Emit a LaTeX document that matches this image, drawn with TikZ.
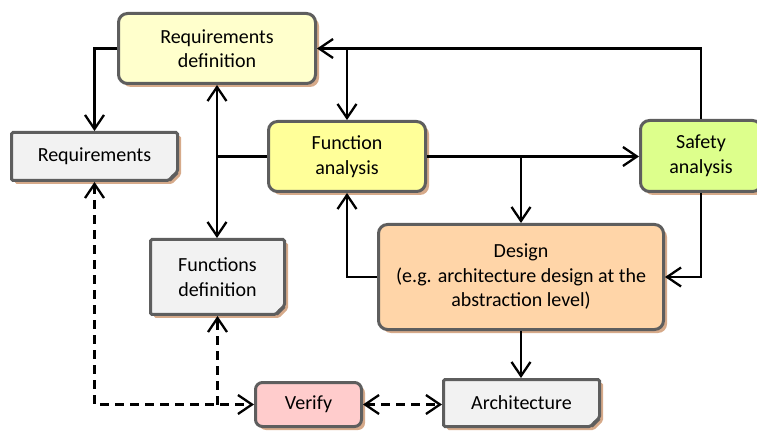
\documentclass[tikz,border=0pt]{standalone}
\usepackage{fontspec}
\setmainfont{Carlito}
\usetikzlibrary{arrows.meta,shadows,shapes.misc,calc}
\definecolor{bordc}{HTML}{5E5E5E}
\definecolor{shadc}{HTML}{D6AA8A}
\definecolor{rdfill}{HTML}{FFFFCC}
\definecolor{docfill}{HTML}{F2F2F2}
\definecolor{fafill}{HTML}{FFFF99}
\definecolor{safill}{HTML}{DDFF8C}
\definecolor{defill}{HTML}{FFD5A8}
\definecolor{vefill}{HTML}{FFCCCC}
\begin{document}
\begin{tikzpicture}[x=1pt,y=-1pt,
  every node/.style={font=\fontsize{20}{24.5}\selectfont, text=black, align=center, inner sep=0pt},
  base/.style={draw=bordc, line width=3pt,
    drop shadow={shadow xshift=3.5pt, shadow yshift=-3.5pt, fill=shadc, opacity=1}},
  proc/.style={base, rectangle, rounded corners=9pt},
  docbox/.style={base, chamfered rectangle, chamfered rectangle corners=south east,
    chamfered rectangle xsep=4.5pt, chamfered rectangle ysep=4.5pt, rounded corners=1.5pt},
  tip/.style={Straight Barb[length=14pt,width=19pt,line width=2.3pt]},
  conn/.style={line width=2.3pt, -{Straight Barb[length=14pt,width=19pt,line width=2.3pt]}},
  connboth/.style={line width=2.3pt, {Straight Barb[length=14pt,width=19pt,line width=2.3pt]}-{Straight Barb[length=14pt,width=19pt,line width=2.3pt]}},
  plain/.style={line width=2.3pt},
  dconn/.style={conn, dash pattern=on 9pt off 6pt},
  dconnboth/.style={connboth, dash pattern=on 9pt off 6pt}]
\useasboundingbox (0,0) rectangle (757,435);

% process boxes
\node[proc, fill=rdfill, minimum width=197pt, minimum height=70pt] (rd) at (217,48.5) {Requirements\\definition};
\node[proc, fill=fafill, minimum width=157pt, minimum height=70pt] (fa) at (347,156.5) {Function\\analysis};
\node[proc, fill=safill, minimum width=121pt, minimum height=71pt] (sa) at (701,156) {Safety\\analysis};
\node[proc, fill=defill, minimum width=285pt, minimum height=105pt] (de) at (521,277) {Design\\(e.g. architecture design at the\\abstraction level)};
\node[proc, fill=vefill, minimum width=106pt, minimum height=44pt, rounded corners=7pt] (ve) at (308.5,404.5) {Verify};

% document boxes
\node[docbox, fill=docfill, minimum width=166pt, minimum height=48pt] (req) at (94.5,156.5) {Requirements};
\node[docbox, fill=docfill, minimum width=134pt, minimum height=75pt] (fd) at (217.5,277) {Functions\\definition};
\node[docbox, fill=docfill, minimum width=156pt, minimum height=47pt] (ar) at (521.5,403) {Architecture};

% folded corners of the documents
\foreach \d in {req,fd,ar}{
  \coordinate (c) at (\d.south -| \d.east);
  \fill[bordc, rounded corners=1pt] ($(c)+(-9,0)$) -- ($(c)+(0,-9)$) -- ($(c)+(-8,-7)$) -- cycle;
}

% solid connectors
\draw[conn] (rd.west) -| (req.north);
\draw[conn] (sa.north) |- (rd.east);
\draw[conn] (fa.north |- rd.east) -- (fa.north);
\draw[connboth] (rd.south) -- (rd.south |- fd.north);
\draw[plain] (fa.west) -- (fa.west -| rd.south);
\draw[conn] (fa.east) -- (fa.east -| sa.west);
\draw[conn] (fa.east -| de.north) -- (de.north);
\draw[conn] (de.west) -| (fa.south);
\draw[conn] (sa.south) |- (de.east);
\draw[conn] (de.south) -- (de.south |- ar.north);

% dashed verification links
\draw[dconnboth] (req.south) |- (ve.west);
\draw[dconn] (ve.west -| fd.south) -- (fd.south);
\draw[dconnboth] (ve.east) -- (ve.east -| ar.west);
\end{tikzpicture}
\end{document}
